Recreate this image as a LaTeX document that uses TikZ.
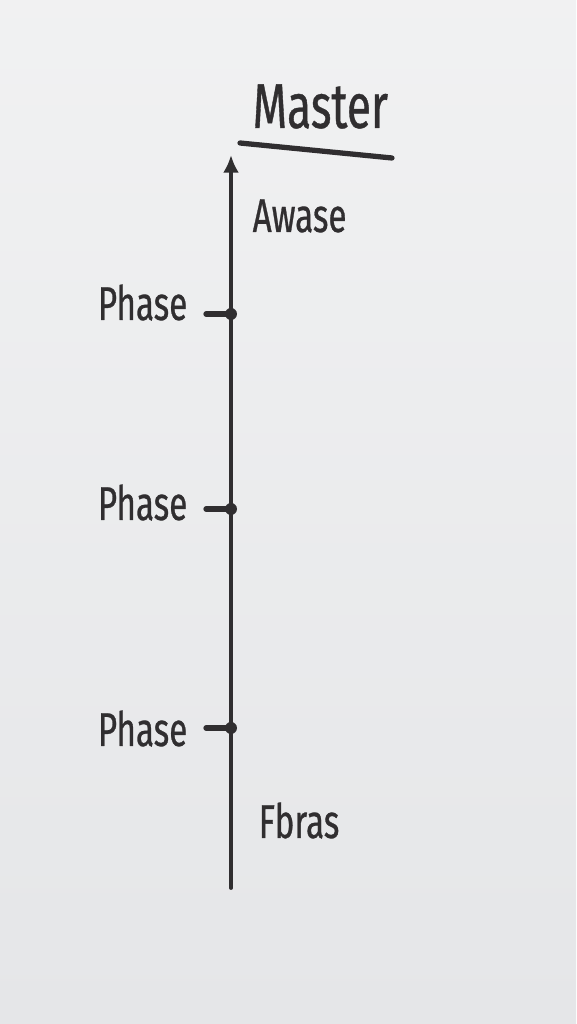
\documentclass[tikz,border=0pt]{standalone}
\usepackage{fontspec}
\usepackage{tikz}
\usetikzlibrary{arrows.meta}
\newfontfamily\handfont[FakeStretch=0.7,FakeBold=0.6]{Fira Sans}
\definecolor{board}{RGB}{229,230,232}
\definecolor{marker}{RGB}{48,46,48}

\begin{document}
\begin{tikzpicture}[
		pen/.style={marker,line width=1.1pt,line cap=round},
		phaselabel/.style={anchor=base east,inner sep=0pt,text=marker,font=\handfont\fontsize{13.5}{14}\selectfont},
		notelabel/.style={anchor=base west,inner sep=0pt,text=marker,font=\handfont\fontsize{13.5}{14}\selectfont}
	]
			\useasboundingbox (0,0) rectangle (5.76,10.24);
			\shade[top color=board!55!white,bottom color=board] (0,0) rectangle (5.76,10.24);
			% Achse und Titel
			\coordinate (bottom) at (2.31,1.36);
			\coordinate (top) at (2.31,8.69);
			\draw[pen,-{Latex[length=5pt,width=4.5pt]}] (bottom) -- (top);
			\node[anchor=base west,inner sep=0pt,text=marker,font=\handfont\fontsize{18}{18}\selectfont] (master) at (2.52,8.96) {Master};
			\coordinate (ul1) at (2.40,8.81);
			\coordinate (ul2) at (3.92,8.66);
			\draw[pen,line width=1.5pt] (ul1) -- (ul2);
			\node[notelabel] (awase) at (2.52,7.92) {Awase};
			\node[notelabel] (fbras) at (2.58,1.86) {Fbras};
			% Phasen
			\node[phaselabel] (phase1) at (1.88,7.04) {Phase};
			\coordinate (tick1) at (2.06,7.10);
			\coordinate (dot1) at (2.31,7.10);
			\draw[pen,line width=1.5pt] (tick1) -- (dot1);
			\fill[marker] (dot1) circle (0.06);
			\node[phaselabel] (phase2) at (1.88,5.04) {Phase};
			\coordinate (tick2) at (2.06,5.15);
			\coordinate (dot2) at (2.31,5.15);
			\draw[pen,line width=1.5pt] (tick2) -- (dot2);
			\fill[marker] (dot2) circle (0.06);
			\node[phaselabel] (phase3) at (1.88,2.78) {Phase};
			\coordinate (tick3) at (2.06,2.96);
			\coordinate (dot3) at (2.31,2.96);
			\draw[pen,line width=1.5pt] (tick3) -- (dot3);
			\fill[marker] (dot3) circle (0.06);
		\end{tikzpicture}
\end{document}
